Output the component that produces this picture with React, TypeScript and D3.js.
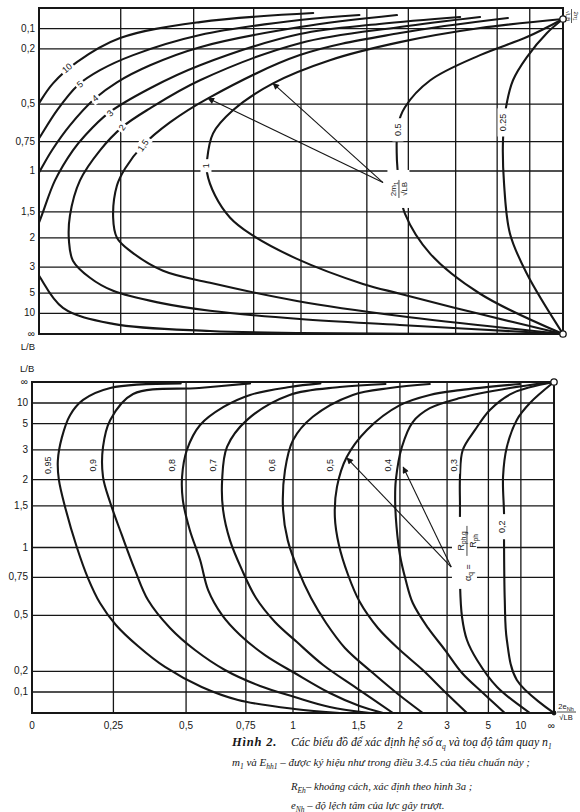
import React from "react";
import * as d3 from "d3";

type P = [number, number];
const INF = Infinity;

// Shared warped axis ticks (position proportional to atan(value))
const xTicks = [0, 0.25, 0.5, 0.75, 1, 1.5, 2, 3, 5, 10, INF];
const xTickLabels = ["0", "0,25", "0,5", "0,75", "1", "1,5", "2", "3", "5", "10", "∞"];
const lbTicks = [0.1, 0.2, 0.5, 0.75, 1, 1.5, 2, 3, 5, 10, INF];
const lbTickLabels = ["0,1", "0,2", "0,5", "0,75", "1", "1,5", "2", "3", "5", "10", "∞"];

// ---- Upper chart: curves of 2m1/√LB  (points: [x value, L/B value])
const topNames = ["10", "5", "4", "3", "2", "1,5", "1", "0.5", "0.25"];
const top10: P[] = [[1.076, 0.024], [0.524, 0.068], [0.248, 0.146], [0.114, 0.267], [0.042, 0.38], [0, 0.494], [-0.03, 0.6]];
const top5: P[] = [[1.43, 0.034], [0.993, 0.058], [0.524, 0.131], [0.29, 0.231], [0.185, 0.309], [0.117, 0.39], [0.054, 0.537], [0, 0.727], [-0.03, 0.85]];
const top4: P[] = [[1.84, 0.034], [0.993, 0.092], [0.524, 0.191], [0.346, 0.283], [0.238, 0.374], [0.17, 0.465], [0.093, 0.635], [0.039, 0.818], [0, 1.015], [-0.03, 1.2]];
const top3: P[] = [[3.14, 0.0435], [1.63, 0.0775], [0.993, 0.126], [0.524, 0.283], [0.346, 0.407], [0.21, 0.556], [0.139, 0.705], [0.102, 0.818], [0.048, 1.095], [0, 1.68], [-0.04, 2.4], [0, 3.46], [0.072, 7.92], [0.226, 20.5], [0.563, 69], [0.993, 200], [INF, INF]];
const top2: P[] = [[3.94, 0.0435], [1.88, 0.092], [0.993, 0.171], [0.524, 0.363], [0.3455, 0.525], [0.254, 0.648], [0.185, 0.818], [0.1235, 1.095], [0.093, 1.56], [0.09, 2.07], [0.102, 2.71], [0.154, 3.6], [0.226, 4.74], [0.38, 6.62], [0.563, 8.9], [0.993, 13.8], [1.88, 23], [INF, INF]];
const top15: P[] = [[6.0, 0.048], [1.88, 0.121], [0.993, 0.231], [0.555, 0.465], [0.414, 0.615], [0.322, 0.779], [0.264, 0.976], [0.238, 1.151], [0.226, 1.594], [0.238, 1.997], [0.28, 2.36], [0.39, 3.18], [0.563, 3.97], [0.976, 6.22], [1.88, 11.5], [INF, INF]];
const top1: P[] = [[INF, 0.053], [3.94, 0.097], [1.88, 0.166], [1.19, 0.257], [0.845, 0.38], [0.657, 0.537], [0.575, 0.69], [0.551, 0.904], [0.551, 1.015], [0.583, 1.27], [0.645, 1.594], [0.733, 1.905], [0.976, 2.64], [1.463, 4.06], [1.88, 5.09], [3.94, 10.4], [INF, INF]];
const top05: P[] = [[INF, 0.053], [9.2, 0.141], [3.94, 0.231], [2.38, 0.363], [1.95, 0.518], [1.853, 0.635], [1.84, 0.904], [1.88, 1.209], [1.95, 1.527], [2.38, 2.46], [3.94, 5.09], [INF, INF]];
const top025: P[] = [[INF, 0.053], [20.8, 0.121], [9.2, 0.241], [6.62, 0.363], [5.8, 0.518], [5.5, 0.74], [5.6, 1.129], [6.24, 1.905], [9.2, 3.35], [INF, INF]];
const topCurves = [top10, top5, top4, top3, top2, top15, top1, top05, top025];
const topLabelAt: P[] = [[0.084, 0.298], [0.1235, 0.385], [0.17, 0.465], [0.216, 0.556], [0.254, 0.648], [0.322, 0.779], [0.547, 0.95], [1.853, 0.665], [5.5, 0.615]];
const topLabelAngle = [-40, -40, -40, -45, -55, -55, -90, -90, -90];
const topFormulaAt: P = [1.86, 1.19];
const topArrowTail: P = [1.67, 1.118];
const topArrowTips: P[] = [[0.555, 0.465], [0.845, 0.38]];
const topCircles: P[] = [[INF, 0.053], [INF, INF]];

// ---- Lower chart: curves of alpha_q
const botNames = ["0,95", "0,9", "0,8", "0,7", "0,6", "0,5", "0,4", "0,3", "0,2"];
const b095: P[] = [[0.48, 150], [0.24, 35], [0.155, 11.7], [0.115, 6.3], [0.09, 3.7], [0.078, 2.57], [0.081, 2.0], [0.1, 1.48], [0.136, 1.0], [0.17, 0.745], [0.2075, 0.575], [0.258, 0.444], [0.33, 0.329], [0.423, 0.222], [0.56, 0.124], [0.714, 0.062], [1.01, 0.019], [1.33, 0]];
const b09: P[] = [[0.77, 150], [0.55, 35], [0.314, 17.6], [0.24, 5.5], [0.217, 3.14], [0.217, 2.07], [0.24, 1.55], [0.277, 1.127], [0.32, 0.807], [0.364, 0.594], [0.441, 0.427], [0.534, 0.308], [0.656, 0.207], [0.819, 0.129], [1.01, 0.076], [1.25, 0.0285], [1.62, 0]];
const b08: P[] = [[1.18, 150], [0.98, 42], [0.77, 16.3], [0.65, 8.4], [0.554, 4.83], [0.503, 2.99], [0.485, 2.07], [0.488, 1.59], [0.514, 1.182], [0.554, 0.888], [0.586, 0.66], [0.644, 0.501], [0.723, 0.388], [0.844, 0.282], [1.01, 0.192], [1.25, 0.095], [1.51, 0.033], [1.77, 0]];
const b07: P[] = [[1.8, 106], [1.33, 42], [0.98, 16.3], [0.756, 5.5], [0.665, 3.14], [0.644, 1.99], [0.648, 1.44], [0.678, 1.07], [0.732, 0.807], [0.799, 0.607], [0.897, 0.461], [1.024, 0.35], [1.2, 0.232], [1.48, 0.119], [1.9, 0]];
const b06: P[] = [[2.55, 106], [1.86, 35], [1.445, 16.3], [1.127, 6], [1.0, 3.53], [0.953, 2.25], [0.942, 1.44], [0.969, 1.07], [1.031, 0.807], [1.115, 0.607], [1.222, 0.455], [1.374, 0.319], [1.65, 0.192], [1.97, 0.0905], [2.4, 0]];
const b05: P[] = [[9.7, 106], [3.44, 26], [2.55, 16.3], [2.0, 9.06], [1.585, 4.32], [1.39, 2.69], [1.307, 1.84], [1.29, 1.34], [1.323, 1.024], [1.402, 0.768], [1.512, 0.581], [1.707, 0.427], [2.0, 0.308], [2.4, 0.207], [2.94, 0.1], [3.73, 0]];
const b04: P[] = [[INF, INF], [7.5, 35], [3.44, 13.1], [2.55, 8.0], [2.21, 5.2], [2.03, 3.14], [1.94, 1.99], [1.93, 1.59], [1.95, 1.22], [2.0, 0.931], [2.09, 0.731], [2.21, 0.575], [2.51, 0.427], [2.94, 0.308], [3.52, 0.192], [4.61, 0.095], [6.7, 0]];
const b03: P[] = [[INF, INF], [8, 19], [5.12, 7.5], [4.13, 4.32], [3.55, 2.99], [3.44, 2.07], [3.44, 1.48], [3.44, 0.709], [3.52, 0.49], [3.73, 0.361], [4.24, 0.257], [5.78, 0.124], [13.8, 0]];
const b02: P[] = [[INF, INF], [13.8, 10], [8.9, 5.5], [7.0, 3.14], [6.47, 2.07], [6.6, 1.39], [6.6, 1.07], [6.7, 0.594], [7.0, 0.361], [8.9, 0.158], [INF, 0]];
const botCurves = [b095, b09, b08, b07, b06, b05, b04, b03, b02];
const botLabelAt: P[] = [[0.048, 2.4], [0.186, 2.4], [0.448, 2.4], [0.606, 2.4], [0.881, 2.4], [1.253, 2.4], [1.83, 2.4], [3.22, 2.4], [6.3, 1.22]];
const botFormulaAt: P = [3.6, 0.95];
const botArrowTail: P = [3.13, 0.83];
const botArrowTips: P[] = [[1.392, 2.65], [2.05, 2.34]];

const SANS = "'Liberation Sans', Arial, sans-serif";
const SERIF = "'Liberation Serif', 'Times New Roman', serif";
const INK = "#161616";

function makeAtan(r0: number, r1: number) {
  const lin = d3.scaleLinear().domain([0, Math.PI / 2]).range([r0, r1]);
  return (v: number) => lin(Math.atan(v));
}

function CurveLabel({ x, y, angle, text, size = 9, pad = 3 }: any) {
  const w = text.length * size * 0.56 + pad * 2;
  const h = size + 2;
  return (
    <g transform={`translate(${x},${y}) rotate(${angle})`}>
      <rect x={-w / 2} y={-h / 2} width={w} height={h} fill="#fff" />
      <text textAnchor="middle" dy="0.35em" fontSize={size} fontFamily={SANS} fill={INK}>{text}</text>
    </g>
  );
}

export default function App() {
  const tL = 39, tR = 563, tT = 8, tB = 334;
  const bL = 32, bR = 554, bT = 382, bB = 713;
  const xT = makeAtan(tL, tR), yT = makeAtan(tT, tB);
  const xB = makeAtan(bL, bR), yB = makeAtan(bB, bT);
  const lineT = d3.line<P>().x(d => xT(d[0])).y(d => yT(d[1])).curve(d3.curveCatmullRom.alpha(0.5));
  const lineB = d3.line<P>().x(d => xB(d[0])).y(d => yB(d[1])).curve(d3.curveCatmullRom.alpha(0.5));
  const gridW = 1.3;

  return (
    <svg width={580} height={812} style={{ position: "absolute", left: 0, top: 0, background: "#fff" }}>
      <defs>
        <clipPath id="clipTop"><rect x={tL} y={tT} width={tR - tL} height={tB - tT} /></clipPath>
        <clipPath id="clipBot"><rect x={bL} y={bT} width={bR - bL} height={bB - bT} /></clipPath>
        <marker id="arrowHead" viewBox="0 0 10 10" refX="9" refY="5" markerWidth="8" markerHeight="6" orient="auto">
          <path d="M0,0L10,5L0,10z" fill={INK} />
        </marker>
      </defs>
      <rect x={0} y={0} width={580} height={812} fill="#fff" />

      {/* ================= Upper chart ================= */}
      <g stroke={INK} strokeWidth={gridW}>
        {xTicks.slice(1, -1).map((v, i) => (
          <line key={"tv" + i} x1={xT(v)} x2={xT(v)} y1={tT} y2={tB} />
        ))}
        {lbTicks.slice(0, -1).map((v, i) => (
          <line key={"th" + i} x1={tL} x2={tR} y1={yT(v)} y2={yT(v)} />
        ))}
      </g>
      <g clipPath="url(#clipTop)" fill="none" stroke={INK} strokeWidth={2.1} strokeLinecap="round">
        {topCurves.map((c, i) => <path key={"tc" + i} d={lineT(c) || ""} />)}
      </g>
      {topNames.map((n, i) => (
        <CurveLabel key={"tl" + i} x={xT(topLabelAt[i][0])} y={yT(topLabelAt[i][1])} angle={topLabelAngle[i]} text={n} size={9} pad={i >= 6 ? 4 : 2} />
      ))}
      <g transform={`translate(${xT(topFormulaAt[0])},${yT(topFormulaAt[1])}) rotate(-90)`}>
        <rect x={-19} y={-11} width={38} height={22} fill="#fff" />
        <text x={0} y={-2} textAnchor="middle" fontSize={8} fontFamily={SANS} fill={INK}>2m<tspan fontSize={6} dy={1.5}>1</tspan></text>
        <line x1={-9} x2={9} y1={0.5} y2={0.5} stroke={INK} strokeWidth={0.8} />
        <text x={0} y={8.5} textAnchor="middle" fontSize={8} fontFamily={SANS} fill={INK}>√LB</text>
      </g>
      <rect x={tL} y={tT} width={tR - tL} height={tB - tT} fill="none" stroke={INK} strokeWidth={2} />
      {topArrowTips.map((t, i) => (
        <line key={"ta" + i} x1={xT(topArrowTail[0])} y1={yT(topArrowTail[1])} x2={xT(t[0])} y2={yT(t[1])} stroke={INK} strokeWidth={1.1} markerEnd="url(#arrowHead)" />
      ))}
      {topCircles.map((c, i) => (
        <circle key={"tci" + i} cx={xT(c[0])} cy={yT(c[1])} r={3.2} fill="#fff" stroke={INK} strokeWidth={1.3} />
      ))}
      <g fontFamily={SANS} fontSize={10} fill={INK}>
        {lbTicks.map((v, i) => (
          <text key={"tyl" + i} x={35} y={yT(v) + 3} textAnchor="end">{lbTickLabels[i]}</text>
        ))}
        <text x={35} y={350} textAnchor="end" fontSize={9.5}>L/B</text>
      </g>
      <g transform="translate(572,16) rotate(90)" fontFamily={SANS} fill={INK}>
        <text x={0} y={-1.5} textAnchor="middle" fontSize={6}>2n<tspan fontSize={4.5} dy={1}>1</tspan></text>
        <line x1={-7} x2={7} y1={0.5} y2={0.5} stroke={INK} strokeWidth={0.7} />
        <text x={0} y={6.5} textAnchor="middle" fontSize={6}>√LB</text>
      </g>

      {/* ================= Lower chart ================= */}
      <g stroke={INK} strokeWidth={gridW}>
        {xTicks.slice(1, -1).map((v, i) => (
          <line key={"bv" + i} x1={xB(v)} x2={xB(v)} y1={bT} y2={bB} />
        ))}
        {lbTicks.slice(0, -1).map((v, i) => (
          <line key={"bh" + i} x1={bL} x2={bR} y1={yB(v)} y2={yB(v)} />
        ))}
      </g>
      <g clipPath="url(#clipBot)" fill="none" stroke={INK} strokeWidth={2.1} strokeLinecap="round">
        {botCurves.map((c, i) => <path key={"bc" + i} d={lineB(c) || ""} />)}
      </g>
      {botNames.map((n, i) => (
        <CurveLabel key={"bl" + i} x={xB(botLabelAt[i][0])} y={yB(botLabelAt[i][1])} angle={-90} text={n} size={9} pad={i === 8 ? 5 : 1} />
      ))}
      <g transform={`translate(${xB(botFormulaAt[0])},${yB(botFormulaAt[1])}) rotate(-90)`} fontFamily={SANS} fill={INK}>
        <rect x={-36} y={-12} width={72} height={25} fill="#fff" />
        <text x={-28} y={7} fontSize={9}>α<tspan fontSize={6.5} dy={2}>q</tspan><tspan dy={-2}> =</tspan></text>
        <text x={12} y={0} textAnchor="middle" fontSize={9}>R<tspan fontSize={6.5} dy={2}>ph.g</tspan></text>
        <line x1={-3} x2={27} y1={3} y2={3} stroke={INK} strokeWidth={0.8} />
        <text x={12} y={12} textAnchor="middle" fontSize={9}>R<tspan fontSize={6.5} dy={2}>ph</tspan></text>
      </g>
      <rect x={bL} y={bT} width={bR - bL} height={bB - bT} fill="none" stroke={INK} strokeWidth={2} />
      {botArrowTips.map((t, i) => (
        <line key={"ba" + i} x1={xB(botArrowTail[0])} y1={yB(botArrowTail[1])} x2={xB(t[0])} y2={yB(t[1])} stroke={INK} strokeWidth={1.1} markerEnd="url(#arrowHead)" />
      ))}
      <circle cx={xB(INF)} cy={yB(INF)} r={3.2} fill="#fff" stroke={INK} strokeWidth={1.3} />
      <circle cx={xB(INF)} cy={yB(0)} r={2.4} fill={INK} />
      <g fontFamily={SANS} fontSize={10} fill={INK}>
        {lbTicks.map((v, i) => (
          <text key={"byl" + i} x={28} y={yB(v) + 3} textAnchor="end">{lbTickLabels[i]}</text>
        ))}
        <text x={20} y={372} fontSize={9.5}>L/B</text>
        {xTicks.map((v, i) => (
          <text key={"bxl" + i} x={i === xTicks.length - 1 ? xB(v) + 1 : xB(v)} y={729} textAnchor={i === xTicks.length - 1 ? "end" : "middle"}>{xTickLabels[i]}</text>
        ))}
      </g>
      <g fontFamily={SANS} fill={INK}>
        <text x={566} y={709} textAnchor="middle" fontSize={7.5}>2e<tspan fontSize={5.5} dy={1.5}>Nh</tspan></text>
        <line x1={557} x2={576} y1={712} y2={712} stroke={INK} strokeWidth={0.8} />
        <text x={566} y={720} textAnchor="middle" fontSize={7.5}>√LB</text>
      </g>

      {/* ================= Caption ================= */}
      <g fontFamily={SERIF} fontStyle="italic" fill={INK}>
        <text x={232} y={746} fontSize={12.5} fontWeight="bold" letterSpacing={0.8}>Hình 2.</text>
        <text x={291} y={746} fontSize={11.8}>
          Các biểu đồ để xác định hệ số α<tspan fontSize={7.5} dy={2.5}>q</tspan><tspan dy={-2.5}> và toạ độ tâm quay n</tspan><tspan fontSize={7.5} dy={2.5}>1</tspan>
        </text>
        <text x={232} y={766} fontSize={11}>
          m<tspan fontSize={7.5} dy={2.5}>1</tspan><tspan dy={-2.5}> và E</tspan><tspan fontSize={7.5} dy={2.5}>hh1</tspan><tspan dy={-2.5}> – được ký hiệu như trong điều 3.4.5 của tiêu chuẩn này ;</tspan>
        </text>
        <text x={291} y={790} fontSize={10.7}>
          R<tspan fontSize={7.5} dy={2.5}>Eh</tspan><tspan dy={-2.5}>– khoảng cách, xác định theo hình 3a ;</tspan>
        </text>
        <text x={291} y={809} fontSize={10.7}>
          e<tspan fontSize={7.5} dy={2.5}>Nh</tspan><tspan dy={-2.5}> – độ lệch tâm của lực gây trượt.</tspan>
        </text>
      </g>
    </svg>
  );
}
